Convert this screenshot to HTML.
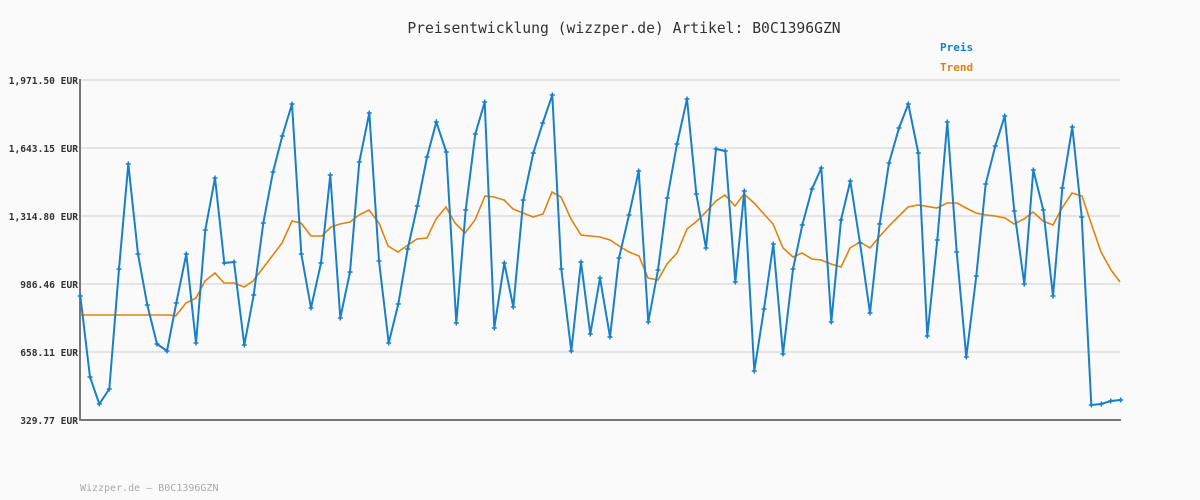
<!DOCTYPE html>
<html><head><meta charset="utf-8"><style>
body{margin:0;background:#fafafa;}
svg{display:block}
text{font-family:"DejaVu Sans Mono","Liberation Mono",monospace;}
</style></head><body>
<svg width="1200" height="500" viewBox="0 0 1200 500" xmlns="http://www.w3.org/2000/svg">
<rect width="1200" height="500" fill="#fafafa"/>
<text x="624" y="33" text-anchor="middle" font-size="14.7" fill="#333">Preisentwicklung (wizzper.de) Artikel: B0C1396GZN</text>
<text x="940" y="51" font-size="11" font-weight="bold" fill="#1a7fc9">Preis</text>
<text x="940" y="71" font-size="11" font-weight="bold" fill="#e0820f">Trend</text>
<g stroke="#e4e4e4" stroke-width="2">
<line x1="80" y1="80" x2="1120" y2="80"/><line x1="80" y1="148" x2="1120" y2="148"/><line x1="80" y1="216" x2="1120" y2="216"/><line x1="80" y1="284" x2="1120" y2="284"/><line x1="80" y1="352" x2="1120" y2="352"/>
</g>
<g font-size="9.6" font-weight="bold" fill="#333" text-anchor="end">
<text x="78" y="84">1,971.50 EUR</text><text x="78" y="152">1,643.15 EUR</text><text x="78" y="220">1,314.80 EUR</text><text x="78" y="288">986.46 EUR</text><text x="78" y="356">658.11 EUR</text><text x="78" y="424">329.77 EUR</text>
</g>
<line x1="80" y1="79" x2="80" y2="421" stroke="#777" stroke-width="2"/>
<line x1="79" y1="420" x2="1121" y2="420" stroke="#777" stroke-width="2"/>
<polyline fill="none" stroke="#e0820f" stroke-width="1.6" points="80,315 170,315 175.7,316 186,303 196,298 205,281 215,273 224,283 234,283 244,287 253,281 263,268 273,255 282,243 292,221 301,223 311,236 322,236 331,227 340,224 350,222 359,215 369,210 379,223 388,246 398,252 408,245 417,239 427,238 436,219 446,207 455,223 465,233 475,220 485,196 494,197 504,200 513,209 523,213 533,217 543,214 552,192 561,197 571,219 581,235 600,237 610,240 619,246 629,252 639,256 648,278 658,280 667,264 677,253 687,229 697,221 706,212 716,201 725,195 735,206 744,194 754,203 764,214 773,224 783,248 793,257 802,253 812,259 821,260 831,264 841,267 850,248 860,242 870,248 880,236 889,226 899,216 908,207 918,205 937,208 947,203 957,203 966,208 976,213 986,215 995,216 1005,218 1014,224 1024,219 1033,212 1043,221 1053,225 1062,208 1072,193 1082,196 1091,223 1101,252 1111,270 1120,282"/>
<polyline id="p" fill="none" stroke="#1a7fc9" stroke-width="2" points="80.3,296 90,377 99.3,404 109.3,389 119,269 128.3,164 138,254 147.3,305 157,344 167,351 176.3,303 186.3,254 196,343 205.3,230 215,178 224.3,263 234,262 244.3,345 253.7,295 263.3,223 273,172 282.3,136 292,104 301.3,254 311,308 321,263 330.3,175 340.3,318 350,272 359.3,162 369.3,113 379,261 388.7,343 398.3,304 407.7,249 417.3,206 427,157 436.3,122 446.3,152 456.3,323 465.7,210 475.3,134 484.7,102 494.3,328 504.3,263 513.3,307 523.3,200 533.3,153 542.7,123 552.3,95 561.3,269 571.3,351 581,262 590.3,334 600,278 610,337 619,258 629,215 638.7,171 648.3,322 658,270 667.3,198 677,144 687,99 696.3,194 706,248 716,149 725.3,151 735.3,282 744.3,191 754.3,371 764,309 773.3,244 783,354 793,269 802.3,225 812,189 821.3,168 831.3,322 841,220 850.3,181 860,243 870,313 879.7,224 889,163 899,128 908.3,104 918.3,153 927.3,336 937.3,240 947.3,122 956.7,252 966.3,357 976.3,276 985.7,184 995.3,146 1004.7,116 1014.3,211 1024.3,284 1033.3,170 1043.3,210 1053,296 1062.3,188 1072.3,127 1081.7,217 1091.3,405 1101.3,404 1110.7,401 1120.7,400"/>
<text x="80" y="491" font-size="10" fill="#aaa">Wizzper.de – B0C1396GZN</text>
</svg>
<script>
(function(){var p=document.getElementById('p').getAttribute('points').trim().split(/\s+/);var s='';p.forEach(function(q){var a=q.split(',');s+='<path d="M'+(a[0]-2.5)+' '+a[1]+'h5M'+a[0]+' '+(a[1]-2.5)+'v5" stroke="#1a7fc9" stroke-width="1.5"/>';});document.querySelector('svg').insertAdjacentHTML('beforeend',s);})();
</script>
</body></html>
